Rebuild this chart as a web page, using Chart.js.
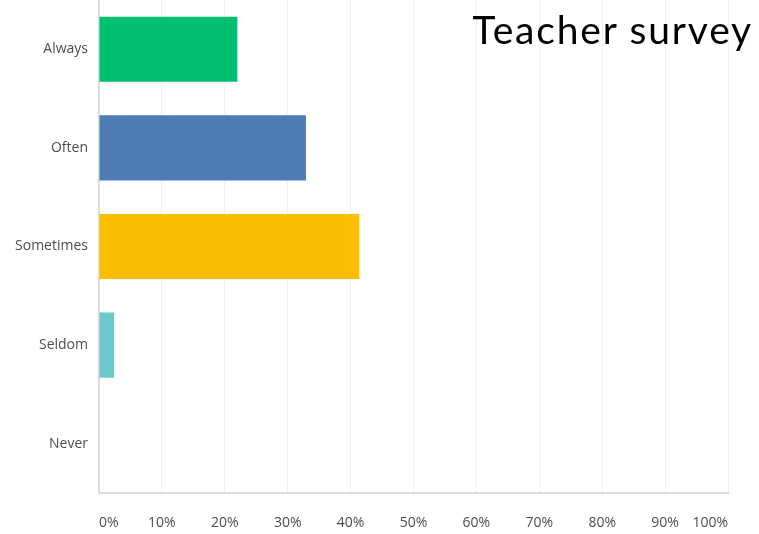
<!DOCTYPE html>
<html lang="en">
<head>
    <meta charset="UTF-8">
    <title>Teacher survey</title>
    <script src="https://cdn.jsdelivr.net/npm/chart.js"></script>
    <style>
        body { margin: 0; background: #fff; }
        #wrap { position: relative; width: 759px; height: 534px; }
        #title {
            position: absolute; right: 6px; top: 6px;
            font-family: "Lato", "Noto Sans", sans-serif; font-size: 39px;
            color: #000; letter-spacing: 1.8px;
        }
    </style>
</head>
<body>
    <div id="wrap">
        <canvas id="chart-bar" width="759" height="534"></canvas>
        <div id="title">Teacher survey</div>
    </div>

    <script>
        // answers and share of teachers (%)
        const answers = ['Always', 'Often', 'Sometimes', 'Seldom', 'Never'];
        const percentages = [22.0, 32.9, 41.4, 2.4, 0];
        const barColors = ['#00BF6F', '#507CB6', '#F9BE00', '#6BC8CD', '#999999'];
        const tickLabels = ['0%', '10%', '20%', '30%', '40%', '50%', '60%', '70%', '80%', '90%', '100%'];

        const labelFont = { family: 'Open Sans', size: 14 };

        new Chart(document.getElementById('chart-bar'), {
            type: 'bar',
            data: {
                labels: answers,
                datasets: [{
                    data: percentages,
                    backgroundColor: barColors,
                    borderWidth: 0,
                    categoryPercentage: 1,
                    barPercentage: 0.66
                }]
            },
            options: {
                indexAxis: 'y',
                responsive: false,
                animation: false,
                layout: { padding: { top: 0, right: 31, bottom: 0, left: 0 } },
                plugins: { legend: { display: false }, tooltip: { enabled: false } },
                scales: {
                    x: {
                        min: 0,
                        max: 100,
                        grid: { color: '#f0f0f0', drawTicks: false },
                        border: { color: '#dcdcdc', width: 2 },
                        afterFit: s => { s.height = 41; },
                        ticks: {
                            stepSize: 10,
                            align: 'inner',
                            padding: 22,
                            color: '#4d4d4d',
                            font: labelFont,
                            callback: (v, i) => tickLabels[i]
                        }
                    },
                    y: {
                        grid: { display: false, drawTicks: false },
                        border: { color: '#dcdcdc', width: 2 },
                        afterFit: s => {
                            s.width = 99;
                            s.paddingTop = 0;
                            s.paddingBottom = 0;
                        },
                        ticks: { padding: 11, color: '#4d4d4d', font: labelFont }
                    }
                }
            }
        });
    </script>
</body>
</html>
